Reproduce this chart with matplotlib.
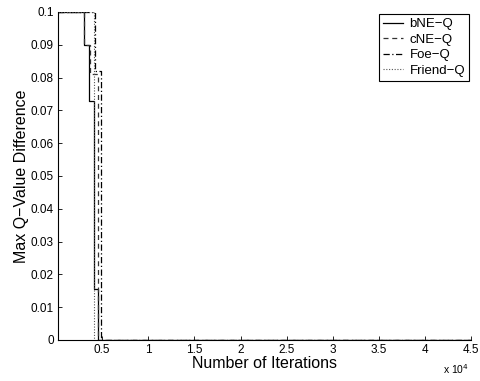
import matplotlib
matplotlib.use("Agg")
import matplotlib.pyplot as plt

plt.rcParams['font.family'] = ['Liberation Sans', 'DejaVu Sans']

# Step data (iterations, max Q-value difference)
bne_x = [200, 3050, 3590, 4130, 4570, 45000]
bne_y = [0.1, 0.09, 0.073, 0.0155, 0.0, 0.0]
cne_x = [200, 3050, 3700, 4530, 45000]
cne_y = [0.1, 0.09, 0.081, 0.0, 0.0]
foe_x = [200, 4200, 4860, 45000]
foe_y = [0.1, 0.082, 0.0, 0.0]
friend_x = [200, 4150, 45000]
friend_y = [0.1, 0.0, 0.0]

labels = ['bNE\u2212Q', 'cNE\u2212Q', 'Foe\u2212Q', 'Friend\u2212Q']
xticks = [5000, 10000, 15000, 20000, 25000, 30000, 35000, 40000, 45000]
xticklabels = ['0.5', '1', '1.5', '2', '2.5', '3', '3.5', '4', '4.5']
yticks = [0, 0.01, 0.02, 0.03, 0.04, 0.05, 0.06, 0.07, 0.08, 0.09, 0.1]
yticklabels = ['0', '0.01', '0.02', '0.03', '0.04', '0.05', '0.06', '0.07', '0.08', '0.09', '0.1']

fig = plt.figure(figsize=(4.81, 3.81), dpi=100)
ax = fig.add_axes([58/481, 1 - 340/381, (471 - 58)/481, (340 - 12)/381])

ax.plot(bne_x, bne_y, drawstyle='steps-post', color='black', lw=0.9, ls='-', label=labels[0])
ax.plot(cne_x, cne_y, drawstyle='steps-post', color='#333333', lw=0.9, ls=(0, (4, 3)), label=labels[1])
ax.plot(foe_x, foe_y, drawstyle='steps-post', color='black', lw=0.9, ls=(0, (5, 2, 1, 2)), label=labels[2])
ax.plot(friend_x, friend_y, drawstyle='steps-post', color='#555555', lw=0.8, ls=(0, (1, 1.5)), label=labels[3])

ax.set_xlim(200, 45000)
ax.set_ylim(0, 0.1)
ax.set_xticks(xticks)
ax.set_xticklabels(xticklabels)
ax.set_yticks(yticks)
ax.set_yticklabels(yticklabels)
ax.tick_params(direction='in', length=3, labelsize=8.5, width=0.6, pad=3)
for s in ['top', 'right']:
    ax.spines[s].set_visible(False)
for s in ['left', 'bottom']:
    ax.spines[s].set_linewidth(0.8)

ax.set_xlabel('Number of Iterations', fontsize=11.5, labelpad=0)
ax.set_ylabel('Max Q\u2212Value Difference', fontsize=11.5)
ax.yaxis.set_label_coords(-0.07, 0.5)
fig.text(443/481, 1 - 374/381, r'x 10$^4$', fontsize=7.5, va='baseline', ha='left')

leg = ax.legend(loc='upper right', fontsize=9.5, frameon=True, fancybox=False,
                edgecolor='black', framealpha=1, handlelength=1.5,
                borderpad=0.3, labelspacing=0.25, handletextpad=0.5,
                borderaxespad=0, bbox_to_anchor=(469/481 * 481/413 - 58/413, 1 - 2/328))
leg.get_frame().set_linewidth(0.8)

fig.savefig('out.png', dpi=100)
